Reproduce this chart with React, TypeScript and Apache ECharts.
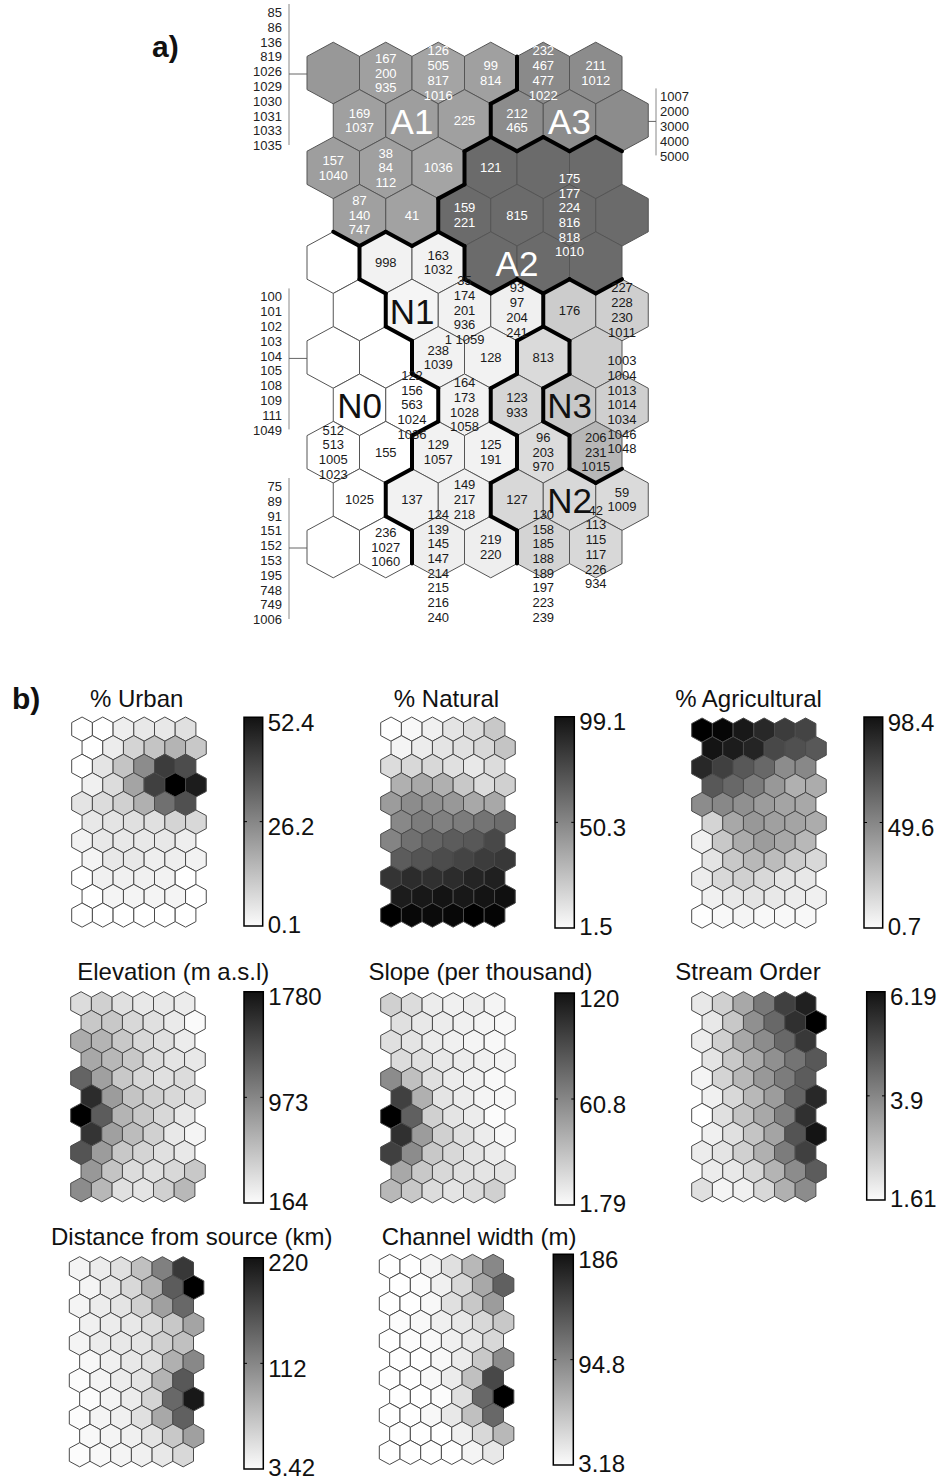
import React, { useEffect, useRef } from 'react';
import * as echarts from 'echarts';

const FONT = "'Liberation Sans', Arial, Helvetica, sans-serif";
const ROWS = 11;
const COLS = 6;

// ---------- Part a) : clustered SOM ----------
const clusterRows: string[][] = [
  ['A1', 'A1', 'A1', 'A1', 'A3', 'A3'],
  ['A1', 'A1', 'A1', 'A3', 'A3', 'A3'],
  ['A1', 'A1', 'A1', 'A2', 'A2', 'A2'],
  ['A1', 'A1', 'A2', 'A2', 'A2', 'A2'],
  ['N0', 'N1', 'N1', 'A2', 'A2', 'A2'],
  ['N0', 'N1', 'N1', 'N1', 'N3', 'N3'],
  ['N0', 'N0', 'N1', 'N1', 'N2', 'N3'],
  ['N0', 'N0', 'N1', 'N2', 'N3', 'N3'],
  ['N0', 'N0', 'N1', 'N1', 'N2', 'N3'],
  ['N0', 'N1', 'N1', 'N2', 'N2', 'N2'],
  ['N0', 'N0', 'N1', 'N1', 'N2', 'N2'],
];

const cellShade: number[][] = [
  [152, 160, 164, 160, 138, 140],
  [160, 158, 160, 140, 140, 140],
  [158, 160, 164, 107, 107, 107],
  [160, 162, 107, 107, 107, 107],
  [255, 242, 242, 107, 107, 107],
  [255, 245, 242, 240, 204, 207],
  [255, 255, 242, 242, 218, 205],
  [255, 255, 242, 214, 200, 207],
  [255, 255, 242, 242, 220, 183],
  [255, 242, 240, 216, 216, 218],
  [255, 255, 238, 238, 212, 216],
];

const cellLabels: string[][] = [
  ['', '167\n200\n935', '126\n505\n817\n1016', '99\n814', '232\n467\n477\n1022', '211\n1012'],
  ['169\n1037', '', '225', '212\n465', '', ''],
  ['157\n1040', '38\n84\n112', '1036', '121', '', ''],
  ['87\n140\n747', '41', '159\n221', '815', '175\n177\n224\n816\n818\n1010', ''],
  ['', '998', '163\n1032', '', '', ''],
  ['', '', '35\n174\n201\n936\n1 1059', '93\n97\n204\n241', '176', '227\n228\n230\n1011'],
  ['', '', '238\n1039', '128', '813', ''],
  ['', '122\n156\n563\n1024\n1036', '164\n173\n1028\n1058', '123\n933', '', '1003\n1004\n1013\n1014\n1034\n1046\n1048'],
  ['512\n513\n1005\n1023', '155', '129\n1057', '125\n191', '96\n203\n970', '206\n231\n1015'],
  ['1025', '137', '149\n217\n218', '127', '', '59\n1009'],
  ['', '236\n1027\n1060', '124\n139\n145\n147\n214\n215\n216\n240', '219\n220', '130\n158\n185\n188\n189\n197\n223\n239', '42\n113\n115\n117\n226\n934'],
];

const clusterLabelNames = ['A1', 'A3', 'A2', 'N1', 'N0', 'N3', 'N2'];
const clusterLabelCols = [1, 4, 3.5, 1, 0, 4, 4];
const clusterLabelRows = [1, 1, 4, 5, 7, 7, 9];

const sideListItems: string[][] = [
  ['85', '86', '136', '819', '1026', '1029', '1030', '1031', '1033', '1035'],
  ['1007', '2000', '3000', '4000', '5000'],
  ['100', '101', '102', '103', '104', '105', '108', '109', '111', '1049'],
  ['75', '89', '91', '151', '152', '153', '195', '748', '749', '1006'],
];
const sideListCells: [number, number][] = [[0, 0], [1, 5], [6, 0], [10, 0]];
const sideListSides = ['left', 'right', 'left', 'left'];

// ---------- Part b) : component planes ----------
const planeTitles = ['% Urban', '% Natural', '% Agricultural', 'Elevation (m a.s.l)', 'Slope (per thousand)', 'Stream Order', 'Distance from source (km)', 'Channel width (m)'];
const planeMax = [52.4, 99.1, 98.4, 1780, 120, 6.19, 220, 186];
const planeMid = ['26.2', '50.3', '49.6', '973', '60.8', '3.9', '112', '94.8'];
const planeMin = [0.1, 1.5, 0.7, 164, 1.79, 1.61, 3.42, 3.18];

const urban = [
  [0.1, 0.1, 3.6, 4.8, 4.8, 6.5],
  [0.1, 4.0, 8.9, 12.2, 15.5, 11.4],
  [0.1, 5.6, 12.2, 23.7, 40.1, 36.8],
  [3.2, 7.3, 18.8, 39.3, 52.4, 46.6],
  [5.6, 7.3, 9.7, 16.3, 29.4, 36.0],
  [4.8, 5.6, 6.5, 6.5, 8.9, 8.1],
  [2.8, 4.8, 4.8, 4.8, 4.8, 3.6],
  [2.3, 4.8, 4.8, 3.6, 3.6, 2.8],
  [0.1, 3.2, 3.2, 3.2, 2.8, 0.1],
  [0.1, 2.3, 2.3, 2.3, 2.3, 0.1],
  [0.1, 0.1, 0.1, 0.1, 0.1, 0.1],
];
const natural = [
  [1.5, 4.1, 7.3, 11.8, 14.9, 22.6],
  [5.7, 8.8, 11.8, 13.4, 16.4, 24.0],
  [14.9, 16.4, 16.4, 13.4, 10.3, 14.9],
  [31.8, 34.8, 31.8, 22.6, 14.9, 19.5],
  [39.4, 45.5, 44.0, 40.9, 34.8, 34.8],
  [47.1, 51.7, 50.1, 51.7, 54.7, 57.7],
  [48.5, 56.3, 60.8, 63.9, 65.4, 71.6],
  [63.9, 67.0, 70.0, 73.0, 76.2, 77.6],
  [79.2, 82.2, 80.7, 82.2, 85.3, 86.9],
  [88.4, 89.9, 91.5, 89.9, 91.5, 93.0],
  [99.1, 96.0, 95.0, 96.0, 99.1, 97.0],
];
const agricultural = [
  [98.4, 96.0, 89.2, 83.1, 75.4, 72.3],
  [90.8, 87.7, 84.6, 70.8, 67.7, 64.7],
  [83.1, 73.9, 64.7, 58.5, 44.8, 46.3],
  [64.7, 58.5, 50.9, 40.2, 31.0, 32.5],
  [44.8, 46.3, 43.2, 38.6, 35.6, 34.0],
  [17.2, 34.0, 40.2, 37.1, 35.6, 32.5],
  [6.5, 21.8, 32.5, 38.6, 34.0, 27.9],
  [11.1, 21.8, 27.9, 26.4, 20.2, 15.6],
  [8.0, 15.6, 18.7, 15.6, 11.1, 9.5],
  [6.5, 9.5, 11.1, 9.5, 8.0, 6.5],
  [1.1, 3.3, 4.9, 3.3, 3.3, 3.3],
];
const elevation = [
  [386, 461, 361, 310, 310, 285],
  [513, 513, 411, 361, 297, 196],
  [689, 639, 513, 411, 361, 285],
  [715, 613, 513, 386, 335, 310],
  [1147, 767, 513, 411, 361, 386],
  [1500, 791, 537, 461, 411, 361],
  [1780, 1197, 639, 513, 411, 310],
  [1450, 767, 589, 461, 310, 234],
  [1248, 791, 513, 437, 361, 310],
  [817, 537, 386, 361, 411, 513],
  [893, 613, 361, 335, 461, 613],
];
const slope = [
  [23.5, 18.0, 10.7, 8.8, 10.7, 6.9],
  [16.2, 12.4, 10.7, 8.8, 6.9, 5.0],
  [16.2, 14.3, 10.7, 8.8, 6.9, 5.0],
  [18.0, 16.2, 12.4, 10.7, 8.8, 6.9],
  [55.1, 31.0, 16.2, 10.7, 8.8, 5.0],
  [90.3, 38.4, 14.3, 10.7, 6.9, 5.0],
  [120, 75.5, 23.5, 14.3, 10.7, 3.2],
  [97.8, 47.7, 23.5, 16.2, 10.7, 5.0],
  [90.3, 55.1, 27.3, 19.9, 14.3, 10.7],
  [42.1, 27.3, 19.9, 16.2, 14.3, 14.3],
  [34.6, 27.3, 18.0, 14.3, 18.0, 23.5],
];
const streamOrder = [
  [2.02, 2.45, 3.17, 4.03, 5.04, 5.62],
  [2.02, 2.60, 3.60, 4.32, 5.33, 6.19],
  [1.95, 2.45, 3.17, 3.68, 4.32, 5.18],
  [2.10, 2.60, 3.10, 3.60, 4.11, 4.61],
  [1.81, 2.38, 2.88, 3.46, 3.96, 4.54],
  [1.88, 2.31, 2.88, 3.39, 4.39, 5.47],
  [1.61, 2.17, 2.67, 3.17, 3.89, 5.33],
  [1.88, 2.17, 2.67, 3.25, 4.68, 5.83],
  [1.95, 2.10, 2.45, 3.03, 3.96, 5.04],
  [1.95, 2.02, 2.31, 2.96, 3.68, 4.54],
  [2.17, 1.81, 1.88, 2.31, 3.03, 3.68],
];
const distance = [
  [12.7, 19.7, 29.8, 56.9, 111.3, 172.4],
  [12.7, 22.9, 36.6, 70.6, 141.8, 220],
  [12.7, 19.7, 26.4, 43.3, 84.2, 131.6],
  [16.2, 19.7, 22.9, 33.1, 50.2, 80.8],
  [12.7, 19.7, 22.9, 26.4, 43.3, 56.9],
  [9.3, 16.2, 22.9, 29.8, 70.6, 104.6],
  [6.0, 12.7, 19.7, 26.4, 67.1, 145.3],
  [6.0, 12.7, 19.7, 40.0, 131.6, 199.7],
  [6.0, 12.7, 16.2, 29.8, 77.3, 138.6],
  [9.3, 12.7, 16.2, 26.4, 50.2, 84.2],
  [6.0, 9.3, 12.7, 16.2, 22.9, 36.6],
];
const channelWidth = [
  [3.18, 3.18, 11.0, 25.5, 54.0, 88.5],
  [3.18, 5.4, 14.0, 31.2, 65.5, 117.3],
  [3.18, 3.18, 8.1, 25.5, 42.7, 74.1],
  [5.4, 8.1, 14.0, 19.6, 31.2, 42.7],
  [3.18, 5.4, 8.1, 14.0, 19.6, 31.2],
  [3.18, 3.18, 8.1, 16.9, 42.7, 85.6],
  [3.18, 3.18, 8.1, 16.9, 48.3, 134.4],
  [3.18, 3.18, 5.4, 25.5, 111.4, 186],
  [3.18, 3.18, 8.1, 19.6, 48.3, 111.4],
  [3.18, 3.18, 3.18, 14.0, 31.2, 54.0],
  [3.18, 3.18, 3.18, 3.18, 11.0, 19.6],
];
const planeValues = [urban, natural, agricultural, elevation, slope, streamOrder, distance, channelWidth];

// ---------- layout (positions / styles) ----------
const HEX: [number, number][] = [[0, -0.65], [0.5, -0.35], [0.5, 0.35], [0, 0.65], [-0.5, 0.35], [-0.5, -0.35]];
const A_GRID = { left: 307, top: 42.2, dx: 52.5, dy: 47.4 };
const B_DX = 20.7;
const B_DY = 18.6;
const panelLayout = [
  { left: 71.7, top: 717, bar: [244, 717.3, 262.7, 926], title: [136.7, 698] },
  { left: 380.7, top: 717, bar: [555, 716.7, 574.3, 928], title: [446.5, 698] },
  { left: 691.7, top: 718, bar: [864, 717, 882.7, 928], title: [748.5, 698] },
  { left: 70.7, top: 991.7, bar: [244, 991.7, 263.3, 1203], title: [173.3, 971.7] },
  { left: 380.7, top: 992.7, bar: [555, 993, 574.3, 1205], title: [480.5, 971.7] },
  { left: 691.7, top: 991.7, bar: [866.7, 991.7, 885, 1200], title: [748, 971.7] },
  { left: 69.3, top: 1256.7, bar: [244, 1257.7, 263.3, 1469], title: [191.7, 1236.7] },
  { left: 379.3, top: 1254.3, bar: [553.3, 1254.3, 573.3, 1465], title: [479, 1236.7] },
];

const cellX = (c: number, r: number) => c + (r % 2 === 1 ? 0.5 : 0);

function hexPoints(api: any, c: number, r: number) {
  const x = cellX(c, r);
  return HEX.map(([dx, dy]) => api.coord([x + dx, r + dy]));
}

function buildOption() {
  const grids: any[] = [];
  const xAxes: any[] = [];
  const yAxes: any[] = [];
  grids.push({ left: A_GRID.left, top: A_GRID.top, width: 6.5 * A_GRID.dx, height: 11.3 * A_GRID.dy });
  panelLayout.forEach((p) => grids.push({ left: p.left, top: p.top, width: 6.5 * B_DX, height: 11.3 * B_DY }));
  grids.forEach((_, i) => {
    xAxes.push({ gridIndex: i, type: 'value', min: -0.5, max: 6, show: false });
    yAxes.push({ gridIndex: i, type: 'value', min: -0.65, max: 10.65, inverse: true, show: false });
  });

  const aCells: number[][] = [];
  for (let r = 0; r < ROWS; r++) for (let c = 0; c < COLS; c++) aCells.push([c, r, cellShade[r][c]]);

  const textItems: { c: number; r: number; t: string }[] = [];
  for (let r = 0; r < ROWS; r++) for (let c = 0; c < COLS; c++) if (cellLabels[r][c]) textItems.push({ c, r, t: cellLabels[r][c] });

  const series: any[] = [];
  series.push({
    type: 'custom', xAxisIndex: 0, yAxisIndex: 0, z: 1, clip: false, silent: true,
    data: aCells,
    renderItem: (params: any, api: any) => {
      const c = api.value(0), r = api.value(1), g = api.value(2);
      return { type: 'polygon', shape: { points: hexPoints(api, c, r) }, style: { fill: `rgb(${g},${g},${g})`, stroke: '#555', lineWidth: 1 } };
    },
  });
  series.push({
    type: 'custom', xAxisIndex: 0, yAxisIndex: 0, z: 2, clip: false, silent: true,
    data: aCells,
    renderItem: (params: any, api: any) => {
      const c = api.value(0), r = api.value(1);
      const me = clusterRows[r][c];
      const V = hexPoints(api, c, r);
      const children: any[] = [];
      const push = (a: number, b: number) => children.push({
        type: 'line', shape: { x1: V[a][0], y1: V[a][1], x2: V[b][0], y2: V[b][1] },
        style: { stroke: '#000', lineWidth: 4, lineCap: 'round' },
      });
      if (c + 1 < COLS && clusterRows[r][c + 1] !== me) push(1, 2);
      if (r + 1 < ROWS) {
        const lr = r % 2 ? c + 1 : c;
        const ll = r % 2 ? c : c - 1;
        if (lr < COLS && clusterRows[r + 1][lr] !== me) push(2, 3);
        if (ll >= 0 && clusterRows[r + 1][ll] !== me) push(3, 4);
      }
      return { type: 'group', children };
    },
  });
  series.push({
    type: 'custom', xAxisIndex: 0, yAxisIndex: 0, z: 3, clip: false, silent: true,
    data: textItems.map((t) => [cellX(t.c, t.r), t.r]),
    renderItem: (params: any, api: any) => {
      const it = textItems[params.dataIndex];
      const [px, py] = api.coord([cellX(it.c, it.r), it.r]);
      const n = it.t.split('\n').length;
      const topAnchored = n >= 8;
      const isA = clusterRows[it.r][it.c][0] === 'A';
      return {
        type: 'text', x: px, y: topAnchored ? py - 40 : py,
        style: { text: it.t, fill: isA ? '#ffffff' : '#1a1a1a', fontSize: 13, fontFamily: FONT, align: 'center', verticalAlign: topAnchored ? 'top' : 'middle', lineHeight: 14.7 },
      };
    },
  });
  series.push({
    type: 'custom', xAxisIndex: 0, yAxisIndex: 0, z: 4, clip: false, silent: true,
    data: clusterLabelNames.map((_, i) => [cellX(clusterLabelCols[i], clusterLabelRows[i]), clusterLabelRows[i]]),
    renderItem: (params: any, api: any) => {
      const i = params.dataIndex;
      const [px, py] = api.coord([api.value(0), api.value(1)]);
      const name = clusterLabelNames[i];
      return {
        type: 'text', x: px, y: py + 1,
        style: { text: name, fill: name[0] === 'A' ? '#ffffff' : '#111111', fontSize: 35, fontFamily: FONT, align: 'center', verticalAlign: 'middle' },
      };
    },
  });

  const visualMaps: any[] = [];
  planeValues.forEach((m, i) => {
    const data: number[][] = [];
    m.forEach((row, r) => row.forEach((v, c) => data.push([c, r, v])));
    series.push({
      type: 'custom', xAxisIndex: i + 1, yAxisIndex: i + 1, clip: false, silent: true,
      data,
      renderItem: (params: any, api: any) => ({
        type: 'polygon', shape: { points: hexPoints(api, api.value(0), api.value(1)) },
        style: { fill: api.visual('color'), stroke: '#4a4a4a', lineWidth: 1 },
      }),
    });
    visualMaps.push({
      type: 'continuous', show: false, seriesIndex: 4 + i, dimension: 2,
      min: planeMin[i], max: planeMax[i], inRange: { color: ['#ffffff', '#000000'] },
    });
  });

  return { animation: false, grid: grids, xAxis: xAxes, yAxis: yAxes, visualMap: visualMaps, series };
}

function buildGraphic(chart: any) {
  const els: any[] = [];
  const LH = 14.8;
  sideListItems.forEach((items, i) => {
    const [r, c] = sideListCells[i];
    const [cx, cy] = chart.convertToPixel({ gridIndex: 0 }, [cellX(c, r), r]);
    const left = sideListSides[i] === 'left';
    const n = items.length;
    const center = cy + 6;
    const top = center - (n * LH) / 2;
    const lineX = left ? 289 : 656;
    els.push({ type: 'text', x: left ? 282 : 660, y: center, style: { text: items.join('\n'), fill: '#222', fontSize: 13, fontFamily: FONT, align: left ? 'right' : 'left', verticalAlign: 'middle', lineHeight: LH } });
    els.push({ type: 'line', shape: { x1: lineX, y1: top - 1, x2: lineX, y2: top + n * LH - 8 }, style: { stroke: '#888', lineWidth: 1 } });
    const dir = left ? 1 : -1;
    const tip = left ? cx - 2 : cx + 11;
    const ay = cy + 1;
    els.push({ type: 'line', shape: { x1: lineX, y1: ay, x2: tip - 8 * dir, y2: ay }, style: { stroke: '#666', lineWidth: 1 } });
    els.push({ type: 'polygon', shape: { points: [[tip, ay], [tip - 10 * dir, ay - 4.5], [tip - 10 * dir, ay + 4.5]] }, style: { fill: '#111' } });
  });

  panelLayout.forEach((p, i) => {
    const [x0, y0, x1, y1] = p.bar;
    const mid = (y0 + y1) / 2;
    els.push({
      type: 'rect', shape: { x: x0, y: y0, width: x1 - x0, height: y1 - y0 },
      style: { fill: new echarts.graphic.LinearGradient(0, 0, 0, 1, [{ offset: 0, color: '#121212' }, { offset: 1, color: '#fbfbfb' }]), stroke: '#000', lineWidth: 1.5 },
    });
    els.push({ type: 'line', shape: { x1: x0, y1: mid, x2: x0 + 3, y2: mid }, style: { stroke: '#000', lineWidth: 1 } });
    els.push({ type: 'line', shape: { x1: x1 - 3, y1: mid, x2: x1, y2: mid }, style: { stroke: '#000', lineWidth: 1 } });
    const lab = { fill: '#111', fontSize: 24, fontFamily: FONT, align: 'left', verticalAlign: 'middle' };
    els.push({ type: 'text', x: x1 + 5, y: y0 + 5, style: { ...lab, text: String(planeMax[i]) } });
    els.push({ type: 'text', x: x1 + 5, y: mid + 5, style: { ...lab, text: planeMid[i] } });
    els.push({ type: 'text', x: x1 + 5, y: y1 - 1.5, style: { ...lab, text: String(planeMin[i]) } });
    els.push({ type: 'text', x: p.title[0], y: p.title[1], style: { text: planeTitles[i], fill: '#111', fontSize: 24, fontFamily: FONT, align: 'center', verticalAlign: 'middle' } });
  });

  els.push({ type: 'text', x: 152, y: 46, style: { text: 'a)', fill: '#111', fontSize: 30, fontWeight: 'bold', fontFamily: FONT, align: 'left', verticalAlign: 'middle' } });
  els.push({ type: 'text', x: 12, y: 698, style: { text: 'b)', fill: '#111', fontSize: 30, fontWeight: 'bold', fontFamily: FONT, align: 'left', verticalAlign: 'middle' } });
  return { elements: els };
}

export default function App() {
  const ref = useRef<HTMLDivElement>(null);
  useEffect(() => {
    const el = ref.current;
    if (!el) return;
    const chart = echarts.init(el, undefined, { renderer: 'svg' });
    chart.setOption(buildOption() as any);
    chart.setOption({ graphic: buildGraphic(chart) } as any);
    return () => chart.dispose();
  }, []);
  return <div ref={ref} style={{ position: 'absolute', left: 0, top: 0, width: 946, height: 1481, background: '#fff' }} />;
}
